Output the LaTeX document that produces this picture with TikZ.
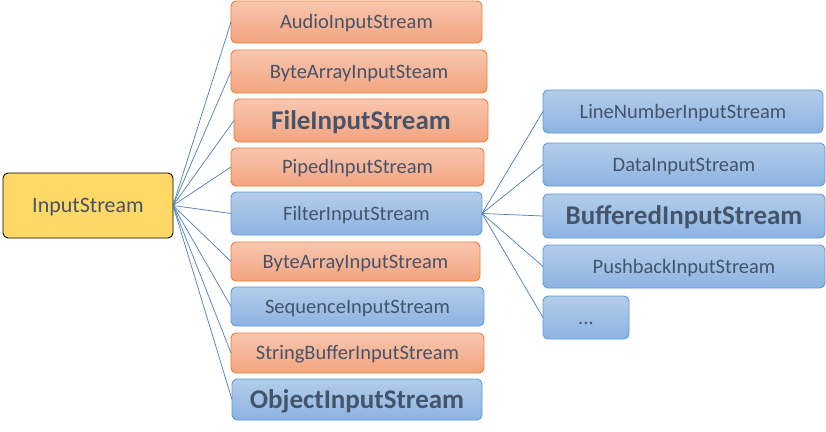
\documentclass[tikz,border=0pt]{standalone}
\usepackage{fontspec}
\setmainfont{Carlito}
\definecolor{txt}{HTML}{44546A}
\definecolor{obd}{HTML}{ED7D31}
\definecolor{otop}{HTML}{F8C6AF}
\definecolor{obot}{HTML}{F3A47F}
\definecolor{bbd}{HTML}{5B9BD5}
\definecolor{btop}{HTML}{B3CDEA}
\definecolor{bbot}{HTML}{8DB3E2}
\definecolor{ybg}{HTML}{FFD966}
\definecolor{lnk}{HTML}{4A7EBB}
\tikzset{
  box/.style={rounded corners=5pt, inner sep=0pt, outer sep=0pt, anchor=north west, text=txt, font=\fontsize{20.5}{22}\selectfont, text height=13pt, text depth=0pt, line width=0.9pt},
  obox/.style={box, draw=obd, top color=otop, bottom color=obot},
  bbox/.style={box, draw=bbd, top color=btop, bottom color=bbot},
  bigtxt/.style={font=\fontsize{27}{30}\selectfont\bfseries, text height=17pt},
  ybox/.style={box, draw=black, fill=ybg, font=\fontsize{22}{24}\selectfont, text height=13pt},
  link/.style={draw=lnk, line width=0.7pt}
}
\begin{document}
\begin{tikzpicture}[x=1pt,y=-1pt]
\useasboundingbox (0,0) rectangle (826,431);
\node[ybox, minimum width=170, minimum height=65] (is) at (3,173) {InputStream};

\node[obox, minimum width=251, minimum height=42] (a1) at (231,1) {AudioInputStream};
\node[obox, minimum width=256, minimum height=43] (a2) at (231,50) {ByteArrayInputSteam};
\node[obox, bigtxt, minimum width=254, minimum height=43] (a3) at (234,99) {FileInputStream};
\node[obox, minimum width=253, minimum height=38] (a4) at (231,148) {PipedInputStream};
\node[bbox, minimum width=251, minimum height=43] (a5) at (231,192) {FilterInputStream};
\node[obox, minimum width=249, minimum height=39] (a6) at (231,242) {ByteArrayInputStream};
\node[bbox, minimum width=253, minimum height=39] (a7) at (231,287) {SequenceInputStream};
\node[obox, minimum width=253, minimum height=40] (a8) at (231,333) {StringBufferInputStream};
\node[bbox, bigtxt, minimum width=250, minimum height=41] (a9) at (232,379) {ObjectInputStream};

\node[bbox, minimum width=280, minimum height=43] (b1) at (543,90) {LineNumberInputStream};
\node[bbox, minimum width=282, minimum height=43] (b2) at (543,143) {DataInputStream};
\node[bbox, bigtxt, minimum width=282, minimum height=44] (b3) at (543,194) {BufferedInputStream};
\node[bbox, minimum width=282, minimum height=43] (b4) at (543,245) {PushbackInputStream};
\node[bbox, minimum width=86, minimum height=43] (b5) at (543,296) {...};

\foreach \n in {a1,a2,a3,a4,a5,a6,a7,a8,a9}
  \draw[link] (is.east) -- (\n.west);
\foreach \n in {b1,b2,b3,b4,b5}
  \draw[link] (a5.east) -- (\n.west);
\end{tikzpicture}
\end{document}
